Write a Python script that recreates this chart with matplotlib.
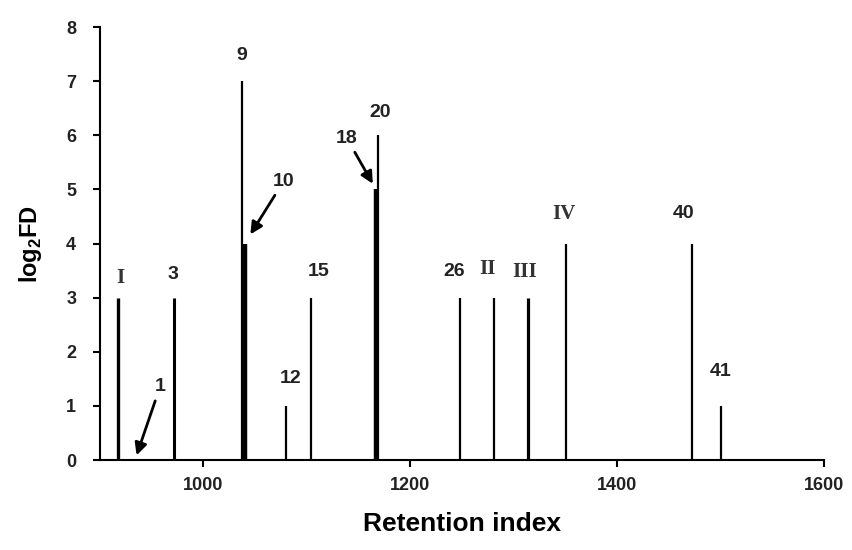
import matplotlib
matplotlib.use('Agg')
import matplotlib.pyplot as plt

plt.rcParams['font.family'] = 'Liberation Sans'
plt.rcParams['mathtext.fontset'] = 'custom'
plt.rcParams['mathtext.rm'] = 'Liberation Sans:bold'
plt.rcParams['mathtext.bf'] = 'Liberation Sans:bold'

# peaks of the olfactogram
peaks = ['I', '1', '3', '9', '10', '12', '15', '18', '20', '26', 'II', 'III', 'IV', '40', '41']
retention = [918, 934, 972, 1037, 1040, 1080, 1104, 1167, 1169, 1248, 1281, 1314, 1351, 1472, 1500]
log2fd = [3, 0, 3, 7, 4, 1, 3, 5, 6, 3, 3, 3, 4, 4, 1]

x_ticks = [1000, 1200, 1400, 1600]
y_ticks = [0, 1, 2, 3, 4, 5, 6, 7, 8]

# line widths (pt) for the heavier peaks
thick = {'I': 2.4, '3': 2.2, '10': 3.2, '18': 3.2, 'III': 2.3}

# label offsets above bar top (points)
label_offset = {
    'I': (1.5, 14.5), '3': (-1, 16.5), '9': (0, 18.7), '12': (3, 19.4),
    '15': (5.8, 18.7), '20': (1.7, 16.8), '26': (-3.8, 19), 'II': (-4.3, 20.7),
    'III': (-2.4, 18.7), 'IV': (-2, 21.6), '40': (-5.8, 21.6), '41': (0, 24.7),
}
# labels with arrows: text offset and shrink at the tip (points)
arrow_labels = {'1': (18, 52.6, 3.6), '10': (27.9, 44.6, 7.8), '18': (-20.9, 36.7, 4.7)}
roman = {'I', 'II', 'III', 'IV'}

fig = plt.figure(figsize=(8.53, 5.5), dpi=100)
ax = fig.add_axes([0.117, 0.1636, 0.849, 0.787])

for name, x, h in zip(peaks, retention, log2fd):
    lw = thick.get(name, 1.6)
    if h > 0:
        ax.vlines(x, 0, h, colors='black', linewidth=lw)

    if name in arrow_labels:
        dx, dy, sh = arrow_labels[name]
        ax.annotate(name, xy=(x, h), xytext=(dx, dy), textcoords='offset points',
                    ha='center', va='center', fontsize=14, fontweight='bold',
                    color='#222222',
                    arrowprops=dict(arrowstyle='-|>', color='black', lw=2,
                                    mutation_scale=18, shrinkA=2, shrinkB=sh))
    else:
        dx, dy = label_offset[name]
        if name in roman:
            ax.annotate(name, xy=(x, h), xytext=(dx, dy), textcoords='offset points',
                        ha='center', va='center', fontsize=15, fontweight='bold',
                        family='Liberation Serif', color='#333333')
        else:
            ax.annotate(name, xy=(x, h), xytext=(dx, dy), textcoords='offset points',
                        ha='center', va='center', fontsize=14, fontweight='bold',
                        color='#222222')

ax.set_xlim(900, 1600)
ax.set_ylim(0, 8)
ax.set_xticks(x_ticks)
ax.set_yticks(y_ticks)
ax.spines['top'].set_visible(False)
ax.spines['right'].set_visible(False)
ax.spines['left'].set_linewidth(1.5)
ax.spines['bottom'].set_linewidth(1.5)
ax.tick_params(direction='out', length=5, width=1.5, labelsize=13)
ax.tick_params(axis='y', pad=12)
ax.tick_params(axis='x', pad=7)
for lab in ax.get_xticklabels() + ax.get_yticklabels():
    lab.set_fontweight('bold')
    lab.set_color('#222222')

ax.set_xlabel('Retention index', fontsize=19, fontweight='bold', labelpad=13)
ax.set_ylabel(r'log$_2$FD', fontsize=17, fontweight='bold', labelpad=16)

fig.savefig('out.png', dpi=100)
